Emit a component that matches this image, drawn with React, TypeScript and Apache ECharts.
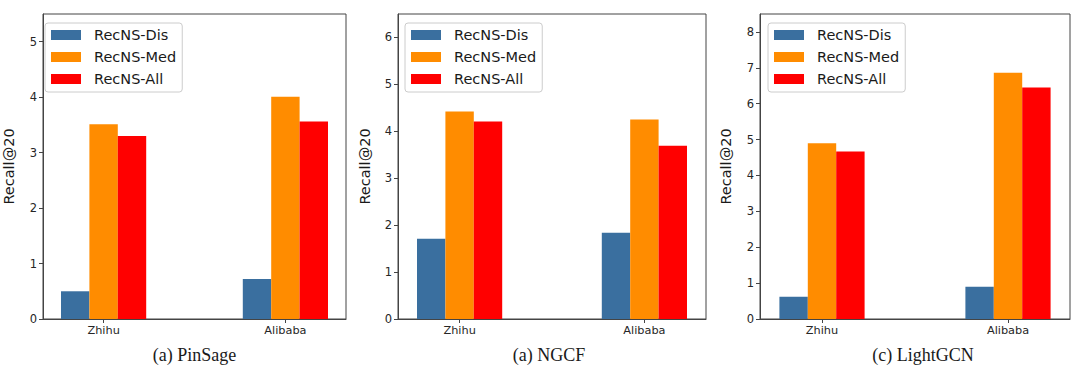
import React, { useEffect, useRef } from "react";
import * as echarts from "echarts";

const categories = ["Zhihu", "Alibaba"];
const seriesNames = ["RecNS-Dis", "RecNS-Med", "RecNS-All"];
const seriesColors = ["#3A6F9F", "#FF8C00", "#FF0000"];

// PinSage
const pinsageDis = [0.5, 0.72];
const pinsageMed = [3.51, 4.01];
const pinsageAll = [3.3, 3.56];
// NGCF
const ngcfDis = [1.71, 1.84];
const ngcfMed = [4.42, 4.25];
const ngcfAll = [4.21, 3.69];
// LightGCN
const lightgcnDis = [0.62, 0.9];
const lightgcnMed = [4.9, 6.86];
const lightgcnAll = [4.67, 6.45];

const panelTitles = ["(a) PinSage", "(a) NGCF", "(c) LightGCN"];
const yMax = [5.5, 6.5, 8.5];
const yTicks = [
  [0, 1, 2, 3, 4, 5],
  [0, 1, 2, 3, 4, 5, 6],
  [0, 1, 2, 3, 4, 5, 6, 7, 8],
];

// category slots: category i sits at slot slotIndex[i] on a 6-slot axis
const slotIndex = [1, 4];
const slotCount = 6;

const panels = [
  [pinsageDis, pinsageMed, pinsageAll],
  [ngcfDis, ngcfMed, ngcfAll],
  [lightgcnDis, lightgcnMed, lightgcnAll],
];

const FONT = "DejaVu Sans";

export default function App() {
  const ref = useRef<HTMLDivElement>(null);
  useEffect(() => {
    if (!ref.current) return;
    const chart = echarts.init(ref.current, null, { renderer: "svg" });

    const gridBoxes = [
      { left: 37, width: 309 },
      { left: 398, width: 308 },
      { left: 760, width: 310 },
    ];
    const legendLefts = [45, 405, 768];
    const titleCenters = [194.5, 549, 923];
    const nameGaps = [27, 26, 27];

    const slotLabels: string[] = [];
    for (let i = 0; i < slotCount; i++) {
      const k = slotIndex.indexOf(i);
      slotLabels.push(k >= 0 ? categories[k] : "");
    }
    const toSlots = (vals: number[]) => {
      const arr: (number | null)[] = [];
      for (let i = 0; i < slotCount; i++) {
        const k = slotIndex.indexOf(i);
        arr.push(k >= 0 ? vals[k] : null);
      }
      return arr;
    };

    const grid = gridBoxes.map((g) => ({
      left: g.left,
      width: g.width,
      top: 14,
      bottom: 58,
      show: true,
      borderColor: "#444",
      borderWidth: 1,
      backgroundColor: "transparent",
    }));

    const xAxis = gridBoxes.map((_, gi) => ({
      type: "category",
      gridIndex: gi,
      data: slotLabels,
      boundaryGap: false,
      axisLine: { show: true, lineStyle: { color: "#444", width: 1 } },
      axisTick: {
        show: true,
        length: 4,
        interval: (_i: number, v: string) => v !== "",
        lineStyle: { color: "#444" },
      },
      axisLabel: {
        interval: (_i: number, v: string) => v !== "",
        fontFamily: FONT,
        fontSize: 11.3,
        color: "#262626",
        margin: 6,
      },
      splitLine: { show: false },
    }));

    const yAxis = gridBoxes.map((_, gi) => ({
      type: "value",
      gridIndex: gi,
      min: 0,
      max: yMax[gi],
      name: "Recall@20",
      nameLocation: "middle",
      nameGap: nameGaps[gi],
      nameTextStyle: { fontFamily: FONT, fontSize: 14.5, color: "#1a1a1a" },
      axisLine: { show: true, lineStyle: { color: "#444", width: 1 } },
      axisTick: {
        show: true,
        length: 4,
        customValues: yTicks[gi],
        lineStyle: { color: "#444" },
      },
      axisLabel: {
        customValues: yTicks[gi],
        fontFamily: FONT,
        fontSize: 11.5,
        color: "#262626",
        margin: 6,
      },
      splitLine: { show: false },
    }));

    const series: any[] = [];
    panels.forEach((panel, gi) => {
      panel.forEach((vals, si) => {
        series.push({
          type: "bar",
          name: seriesNames[si],
          xAxisIndex: gi,
          yAxisIndex: gi,
          data: toSlots(vals),
          barWidth: 28.4,
          barGap: "0%",
          itemStyle: { color: seriesColors[si] },
        });
      });
    });

    const legend = legendLefts.map((l) => ({
      data: seriesNames,
      orient: "vertical",
      left: l,
      top: 23,
      padding: [4, 6, 5, 6],
      itemWidth: 30,
      itemHeight: 10,
      itemGap: 6,
      icon: "rect",
      borderColor: "#cccccc",
      borderWidth: 1,
      borderRadius: 3,
      backgroundColor: "#fff",
      selectedMode: false,
      textStyle: {
        fontFamily: FONT,
        fontSize: 14.5,
        color: "#1a1a1a",
        lineHeight: 16,
        padding: [0, 0, 0, 8],
      },
    }));

    const title = panelTitles.map((t, i) => ({
      text: t,
      left: titleCenters[i],
      top: 346,
      textAlign: "center",
      padding: 0,
      textStyle: {
        fontFamily: "Liberation Serif",
        fontSize: 18,
        fontWeight: "normal",
        color: "#1a1a1a",
      },
    }));

    chart.setOption({
      animation: false,
      backgroundColor: "#fff",
      title,
      legend,
      grid,
      xAxis,
      yAxis,
      series,
    });
    return () => chart.dispose();
  }, []);
  return (
    <div
      ref={ref}
      style={{ position: "fixed", left: 0, top: 0, width: 1080, height: 377 }}
    />
  );
}
